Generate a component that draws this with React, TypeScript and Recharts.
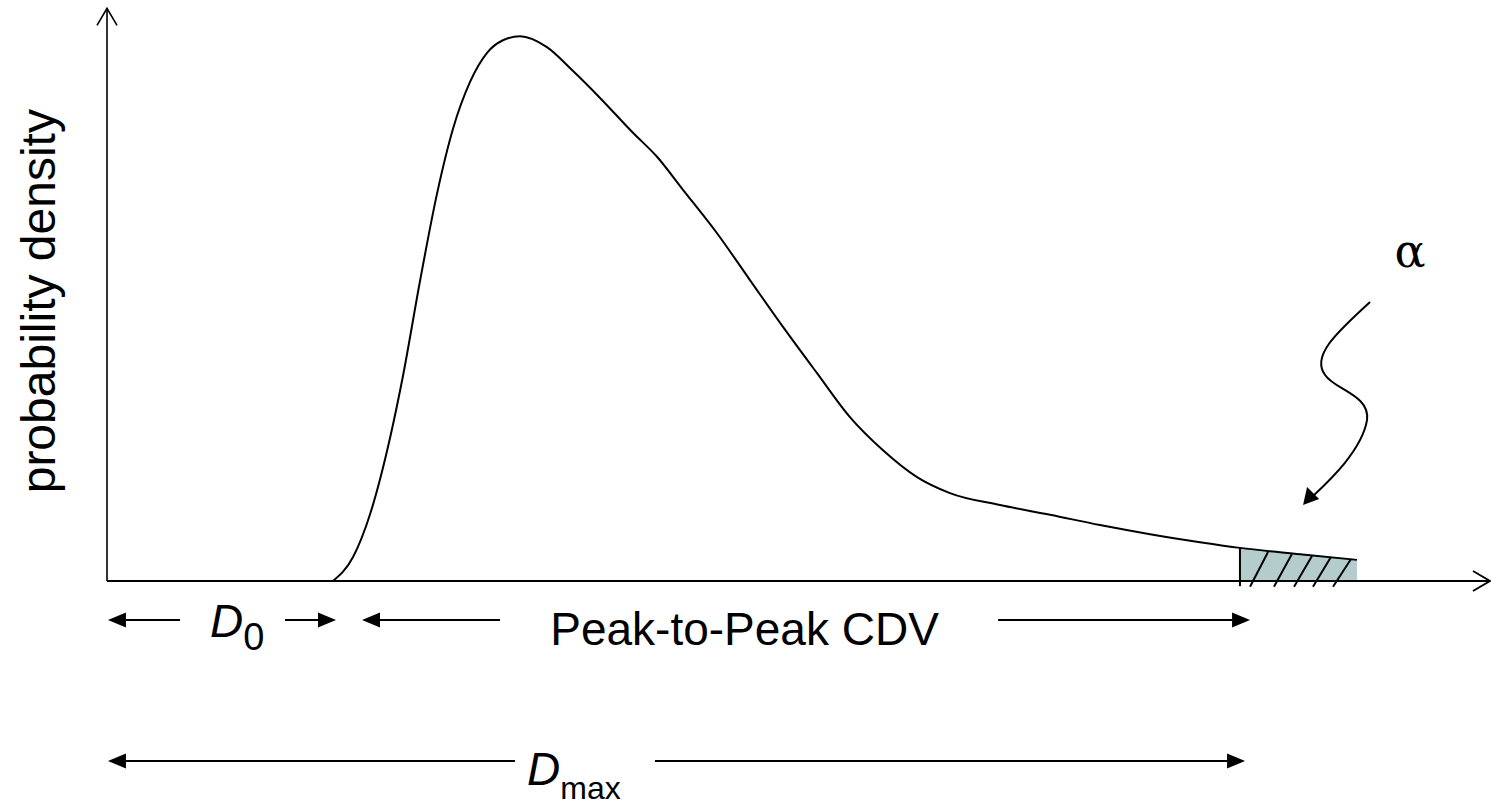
import React from 'react';
import {
  ComposedChart,
  Line,
  Area,
  XAxis,
  YAxis,
  ReferenceLine,
  ReferenceDot,
} from 'recharts';

const FONT = '"Liberation Sans", Arial, sans-serif';
const SERIF = '"DejaVu Serif", "Liberation Serif", serif';

// delay axis (arbitrary units, 0..100) and the density
const delay = [
  16.34, 17.79, 19.02, 20.46, 21.4, 22.63, 23.86, 25.02, 26.25, 27.48, 28.63, 29.86,
  31.81, 33.7, 35.65, 38.03, 39.77, 41.65, 44.11, 46.49, 48.88, 51.34, 53.72, 56.11,
  58.57, 60.95, 64.57, 68.19, 71.8, 75.42, 79.03, 81.92, 86.26, 90.38,
];
const density = [
  0, 4.2, 11.7, 25.0, 35.9, 52.5, 67.8, 79.2, 87.4, 92.5, 94.7, 95.4,
  93.5, 89.3, 84.6, 78.5, 74.3, 68.5, 60.9, 52.7, 44.5, 36.4, 28.7, 22.9,
  18.2, 15.4, 13.3, 11.6, 9.8, 8.2, 6.8, 5.8, 4.7, 3.7,
];

// start of the alpha tail (the shaded area)
const alphaStart = 81.92;

// hatch strokes across the tail
const hatchBase = [82.65, 84.38, 85.83, 87.2, 88.65];
const hatchTop = [5.08, 4.73, 4.38, 4.2, 3.85];

const data = delay.map((d, i) => ({
  delay: d,
  density: density[i],
  tail: d >= alphaStart ? density[i] : undefined,
}));

// annotation arrows below the axis: [fromX, fromY, toX, toY]
const rowArrows: [number, number, number, number][] = [
  [5.28, -6.83, 0.07, -6.83],
  [12.87, -6.83, 16.56, -6.83],
  [28.42, -6.83, 18.44, -6.83],
  [64.43, -6.83, 82.65, -6.83],
  [29.5, -31.52, 0.07, -31.52],
  [39.62, -31.52, 82.29, -31.52],
];

type Head = 'open' | 'filled' | 'none';

function arrowShape(head: Head, width = 2) {
  return (p: any) => {
    const { x1, y1, x2, y2 } = p;
    if (head === 'none') {
      return <line x1={x1} y1={y1} x2={x2} y2={y2} stroke="#000" strokeWidth={width} />;
    }
    const ang = Math.atan2(y2 - y1, x2 - x1);
    const len = head === 'open' ? 17 : 18;
    const hw = head === 'open' ? 10 : 7.5;
    const bx = x2 - len * Math.cos(ang);
    const by = y2 - len * Math.sin(ang);
    const nx = -Math.sin(ang) * hw;
    const ny = Math.cos(ang) * hw;
    if (head === 'open') {
      return (
        <g>
          <line x1={x1} y1={y1} x2={x2} y2={y2} stroke="#000" strokeWidth={width} />
          <polyline
            points={`${bx + nx},${by + ny} ${x2},${y2} ${bx - nx},${by - ny}`}
            fill="none"
            stroke="#000"
            strokeWidth={width}
          />
        </g>
      );
    }
    return (
      <g>
        <line x1={x1} y1={y1} x2={bx} y2={by} stroke="#000" strokeWidth={width} />
        <polygon
          points={`${x2},${y2} ${bx + nx},${by + ny} ${bx - nx},${by - ny}`}
          fill="#000"
        />
      </g>
    );
  };
}

const squiggle = (p: any) => {
  const { cx, cy } = p;
  const d = `M ${cx - 40} ${cy + 35} C ${cx - 70} ${cy + 63}, ${cx - 100} ${cy + 88}, ${cx - 85} ${cy + 108}
    C ${cx - 75} ${cy + 123}, ${cx - 40} ${cy + 128}, ${cx - 43} ${cy + 153}
    C ${cx - 48} ${cy + 183}, ${cx - 80} ${cy + 213}, ${cx - 97} ${cy + 229}`;
  const tx = cx - 107;
  const ty = cy + 238;
  return (
    <g>
      <text x={cx} y={cy} textAnchor="middle" fontFamily={SERIF} fontSize={46} fill="#000">
        α
      </text>
      <path d={d} fill="none" stroke="#000" strokeWidth={2} />
      <polygon points={`${tx},${ty} ${tx + 4},${ty - 18} ${tx + 16},${ty - 6}`} fill="#000" />
    </g>
  );
};

export default function App() {
  return (
    <div style={{ position: 'absolute', left: 0, top: 0, background: '#fff' }}>
      <ComposedChart
        width={1491}
        height={807}
        data={data}
        margin={{ top: 10, right: 1, bottom: 226, left: 107 }}
      >
        <XAxis type="number" dataKey="delay" domain={[0, 100]} hide />
        <YAxis type="number" domain={[0, 100]} hide />

        <Area
          dataKey="tail"
          type="monotone"
          stroke="none"
          fill="#b4cdcc"
          fillOpacity={1}
          isAnimationActive={false}
        />
        <Line
          dataKey="density"
          type="monotone"
          stroke="#000"
          strokeWidth={2}
          dot={false}
          isAnimationActive={false}
        />

        {/* axes */}
        <ReferenceLine
          segment={[{ x: 0, y: 0 }, { x: 100, y: 0 }]}
          ifOverflow="visible"
          shape={arrowShape('open', 2)}
        />
        <ReferenceLine
          segment={[{ x: 0, y: 0 }, { x: 0, y: 100.3 }]}
          ifOverflow="visible"
          shape={arrowShape('open', 1.6)}
        />

        {/* tail edge and hatching */}
        <ReferenceLine
          segment={[{ x: alphaStart, y: -0.9 }, { x: alphaStart, y: 5.8 }]}
          ifOverflow="visible"
          shape={arrowShape('none', 2)}
        />
        {hatchBase.map((b, i) => (
          <ReferenceLine
            key={`h${i}`}
            segment={[{ x: b, y: -1.0 }, { x: b + 1.3, y: hatchTop[i] }]}
            ifOverflow="visible"
            shape={arrowShape('none', 2)}
          />
        ))}

        {rowArrows.map(([fx, fy, tx, ty], i) => (
          <ReferenceLine
            key={`a${i}`}
            segment={[{ x: fx, y: fy }, { x: tx, y: ty }]}
            ifOverflow="visible"
            shape={arrowShape('filled', 2)}
          />
        ))}

        <ReferenceDot
          x={-3.75}
          y={49.0}
          ifOverflow="visible"
          shape={(p: any) => (
            <text
              x={p.cx}
              y={p.cy}
              transform={`rotate(-90 ${p.cx} ${p.cy})`}
              textAnchor="middle"
              fontFamily={FONT}
              fontSize={48}
              fill="#000"
            >
              probability density
            </text>
          )}
        />
        <ReferenceDot
          x={7.45}
          y={-9.81}
          ifOverflow="visible"
          shape={(p: any) => (
            <text x={p.cx} y={p.cy} fontFamily={FONT} fontSize={46} fill="#000">
              <tspan fontStyle="italic">D</tspan>
              <tspan fontSize={38} dy={13}>0</tspan>
            </text>
          )}
        />
        <ReferenceDot
          x={46.1}
          y={-11.2}
          ifOverflow="visible"
          shape={(p: any) => (
            <text x={p.cx} y={p.cy} textAnchor="middle" fontFamily={FONT} fontSize={46} fill="#000">
              Peak-to-Peak CDV
            </text>
          )}
        />
        <ReferenceDot
          x={30.37}
          y={-35.73}
          ifOverflow="visible"
          shape={(p: any) => (
            <text x={p.cx} y={p.cy} fontFamily={FONT} fontSize={46} fill="#000">
              <tspan fontStyle="italic">D</tspan>
              <tspan fontSize={32} dy={14}>max</tspan>
            </text>
          )}
        />
        <ReferenceDot x={94.22} y={55.0} ifOverflow="visible" shape={squiggle} />
      </ComposedChart>
    </div>
  );
}
